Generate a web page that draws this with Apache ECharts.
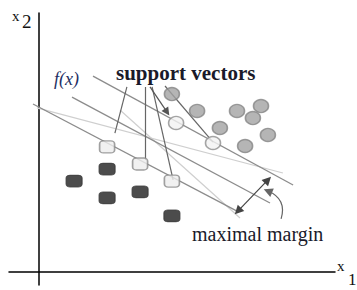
<!DOCTYPE html>
<html>
<head>
<meta charset="utf-8">
<script src="https://cdn.jsdelivr.net/npm/echarts@6/dist/echarts.min.js"></script>
<style>
  html, body { margin: 0; padding: 0; background: #fff; }
  #main { width: 357px; height: 290px; }
</style>
</head>
<body>
<div id="main"></div>
<script>
// class -1 (filled squares) and +1 (gray circles), support vectors drawn light
const negPoints = [[1.17, 3.03], [2.27, 3.43], [2.27, 2.47], [3.37, 2.67], [4.43, 1.87]];
const negSupport = [[2.27, 4.17], [3.37, 3.6], [4.43, 3.03]];
const posPoints = [[4.43, 5.93], [5.27, 5.37], [6.6, 5.37], [7.4, 5.53], [7.13, 5.13], [6.03, 4.8], [7.63, 4.57], [6.87, 4.2]];
const posSupport = [[4.57, 4.97], [5.8, 4.3]];

// separating lines: margin, hyperplane, margin, and two faint candidates
const darkLines = [
  [[1.8, 6.53], [8.47, 2.9]],
  [[1.1, 5.83], [7.7, 2.3]],
  [[-0.2, 5.6], [6.6, 2.03]]
];
const faintLines = [
  [[-0.07, 5.47], [8.13, 3.3]],
  [[2.7, 5.4], [6.7, 1.8]]
];
// pointers from the "support vectors" label
const pointerLines = [
  [[2.93, 6.17], [2.53, 4.63]],
  [[3.53, 6.17], [3.53, 3.73]],
  [[3.77, 6.17], [4.47, 3.07]],
  [[4.2, 6.2], [5.8, 4.33]]
];
const arrowPointer = [[3.7, 6.17], [4.27, 5.33]];
const marginArrow = [[6.63, 2.03], [7.63, 3.07]];
const marginCurve = [[8.07, 1.77], [7.63, 2.7]];

const chart = echarts.init(document.getElementById('main'), null, { renderer: 'svg' });

const segs = arr => arr.map(c => ({ coords: c }));

const option = {
  animation: false,
  grid: { left: 9, right: 22, top: 13, bottom: 5 },
  xAxis: {
    type: 'value', min: -1, max: 9.8667,
    axisLine: { onZero: true, lineStyle: { color: '#000', width: 1.5 } },
    axisTick: { show: false }, axisLabel: { show: false }, splitLine: { show: false }
  },
  yAxis: {
    type: 'value', min: -0.4333, max: 8.6333,
    axisLine: { show: true, onZero: true, lineStyle: { color: '#000', width: 1.5 } },
    axisTick: { show: false }, axisLabel: { show: false }, splitLine: { show: false }
  },
  series: [
    {
      type: 'lines', coordinateSystem: 'cartesian2d', silent: true,
      lineStyle: { color: '#cfcfcf', width: 1.2, opacity: 1 },
      data: segs(faintLines)
    },
    {
      type: 'lines', coordinateSystem: 'cartesian2d', silent: true,
      lineStyle: { color: '#8c8c8c', width: 1.3, opacity: 1 },
      data: segs(darkLines)
    },
    {
      type: 'lines', coordinateSystem: 'cartesian2d', silent: true,
      lineStyle: { color: '#666', width: 1.2, opacity: 1 },
      data: segs(pointerLines)
    },
    {
      type: 'lines', coordinateSystem: 'cartesian2d', silent: true,
      symbol: ['none', 'triangle'], symbolSize: 8,
      lineStyle: { color: '#555', width: 1.2, opacity: 1 },
      data: segs([arrowPointer])
    },
    {
      type: 'lines', coordinateSystem: 'cartesian2d', silent: true,
      symbol: ['triangle', 'triangle'], symbolSize: 9,
      lineStyle: { color: '#444', width: 1.2, opacity: 1 },
      data: segs([marginArrow])
    },
    {
      type: 'lines', coordinateSystem: 'cartesian2d', silent: true,
      symbol: ['none', 'triangle'], symbolSize: 9,
      lineStyle: { color: '#666', width: 1.2, opacity: 1, curveness: -0.45 },
      data: segs([marginCurve])
    },
    {
      type: 'scatter', symbol: 'roundRect', symbolSize: [16, 12],
      itemStyle: { color: '#1f1f1f', borderColor: '#3a3a3a', borderWidth: 1 },
      data: negPoints
    },
    {
      type: 'scatter', symbol: 'roundRect', symbolSize: [15, 12],
      itemStyle: { color: '#ededed', borderColor: '#8a8a8a', borderWidth: 1.5 },
      data: negSupport
    },
    {
      type: 'scatter', symbol: 'circle', symbolSize: [15, 13],
      itemStyle: { color: '#a3a3a3', borderColor: '#858585', borderWidth: 1.5 },
      data: posPoints
    },
    {
      type: 'scatter', symbol: 'circle', symbolSize: [15, 13],
      itemStyle: { color: '#f2f2f2', borderColor: '#8f8f8f', borderWidth: 1.5 },
      data: posSupport
    }
  ],
  graphic: [
    { type: 'text', left: 12, top: 8, style: { text: 'x', font: '15px "Liberation Serif"', fill: '#111' } },
    { type: 'text', left: 22, top: 12, style: { text: '2', font: '19px "Liberation Serif"', fill: '#111' } },
    { type: 'text', left: 337, top: 258, style: { text: 'x', font: '15px "Liberation Serif"', fill: '#111' } },
    { type: 'text', left: 348, top: 271, style: { text: '1', font: '17px "Liberation Serif"', fill: '#111' } },
    { type: 'text', left: 54, top: 70, style: { text: 'f(x)', font: 'italic 18px "Liberation Serif"', fill: '#1e2f63' } },
    { type: 'text', left: 116, top: 62, style: { text: 'support vectors', font: 'bold 21px "Liberation Serif"', fill: '#1a1a2a' } },
    { type: 'text', left: 192, top: 224, style: { text: 'maximal margin', font: '20px "Liberation Serif"', fill: '#1a1a2a' } }
  ]
};

chart.setOption(option);
</script>
</body>
</html>
